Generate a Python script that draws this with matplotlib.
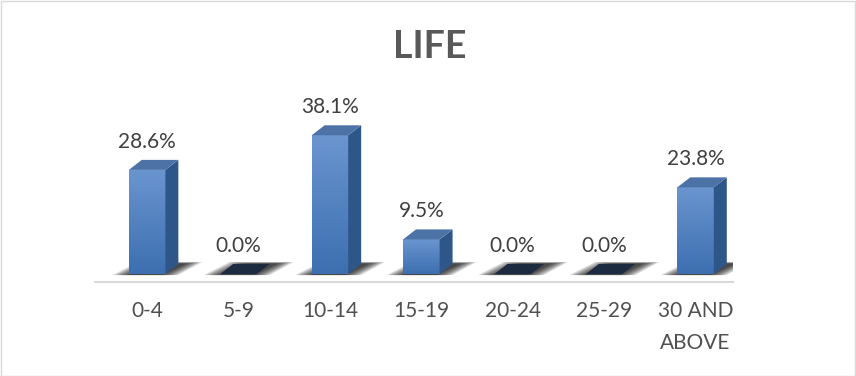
import numpy as np
import matplotlib.pyplot as plt
from matplotlib.patches import Polygon, Rectangle

# data
categories = ['0-4', '5-9', '10-14', '15-19', '20-24', '25-29', '30 AND\nABOVE']
values = [28.6, 0.0, 38.1, 9.5, 0.0, 0.0, 23.8]
title = 'LIFE'

plt.rcParams['font.family'] = ['Lato', 'DejaVu Sans']

W, H = 856, 376
fig = plt.figure(figsize=(W / 100, H / 100), dpi=100)

# axes placed in pixel terms: floor line at y=282, x from 95 to 733
ax = fig.add_axes([95 / W, (H - 282) / H, 638 / W, 182 / H])
ax.set_xlim(-0.57, 6.41)
ax.set_ylim(-2.2, 47.8)

bar_w = 0.40      # front face width (category units)
dx = 0.142        # 3d depth, x
dy = 2.75         # 3d depth, y

front_top = '#6a95cf'
front_bot = '#3d6fb0'
side_col = '#2f5689'
top_col = '#4d73a6'
zero_col = '#1d2b40'

grad = np.linspace(0, 1, 64).reshape(-1, 1)
cmap = plt.matplotlib.colors.LinearSegmentedColormap.from_list('f', [front_bot, front_top])

for i, v in enumerate(values):
    x0 = i - bar_w / 2
    x1 = i + bar_w / 2
    # soft shadow under the bar (stacked translucent layers)
    for k in range(8):
        g = 0.025 * k
        ax.add_patch(Polygon([(x0 - 0.18 + g, -0.3), (x1 + 0.14 - g, -0.3),
                              (x1 + dx + 0.26 - g, dy * 1.2 - g * 2.5),
                              (x0 + dx - 0.04 + g, dy * 1.2 - g * 2.5)],
                             closed=True, facecolor='black', edgecolor='none',
                             alpha=0.14, zorder=1))
    if v > 0:
        # front face with vertical gradient
        rect = Rectangle((x0, 0), bar_w, v, facecolor='none', edgecolor='none', zorder=3)
        ax.add_patch(rect)
        im = ax.imshow(grad, extent=(x0, x1, 0, v), origin='lower', cmap=cmap,
                       aspect='auto', zorder=3)
        im.set_clip_path(rect)
        # side face
        ax.add_patch(Polygon([(x1, 0), (x1 + dx, dy), (x1 + dx, v + dy), (x1, v)],
                             closed=True, facecolor=side_col, edgecolor='none', zorder=3))
        # top face
        ax.add_patch(Polygon([(x0, v), (x1, v), (x1 + dx, v + dy), (x0 + dx, v + dy)],
                             closed=True, facecolor=top_col, edgecolor='none', zorder=3))
    else:
        ax.add_patch(Polygon([(x0, 0), (x1, 0), (x1 + dx, dy), (x0 + dx, dy)],
                             closed=True, facecolor=zero_col, edgecolor='none', zorder=3))
    ax.annotate(f'{v:.1f}%', (i, v + dy), xytext=(0, 6), textcoords='offset points',
                ha='center', va='bottom', fontsize=15, color='#404040')

ax.set_xticks(range(len(categories)))
ax.set_xticklabels(categories, fontsize=15, color='#505050', linespacing=1.7)
ax.tick_params(axis='x', length=0, pad=14)
ax.set_yticks([])
for s in ['top', 'left', 'right']:
    ax.spines[s].set_visible(False)
ax.spines['bottom'].set_color('#d9d9d9')
ax.spines['bottom'].set_linewidth(1.5)

fig.text(430 / W, 1 - 47 / H, title, ha='center', va='center', fontsize=27,
         fontweight='bold', color='#595959')

# outer chart border
fig.add_artist(Rectangle((0.5 / W, 0.5 / H), 1 - 1.5 / W, 1 - 1.5 / H,
                         transform=fig.transFigure, fill=False,
                         edgecolor='#d9d9d9', linewidth=1))

fig.savefig('out.png', dpi=100)
